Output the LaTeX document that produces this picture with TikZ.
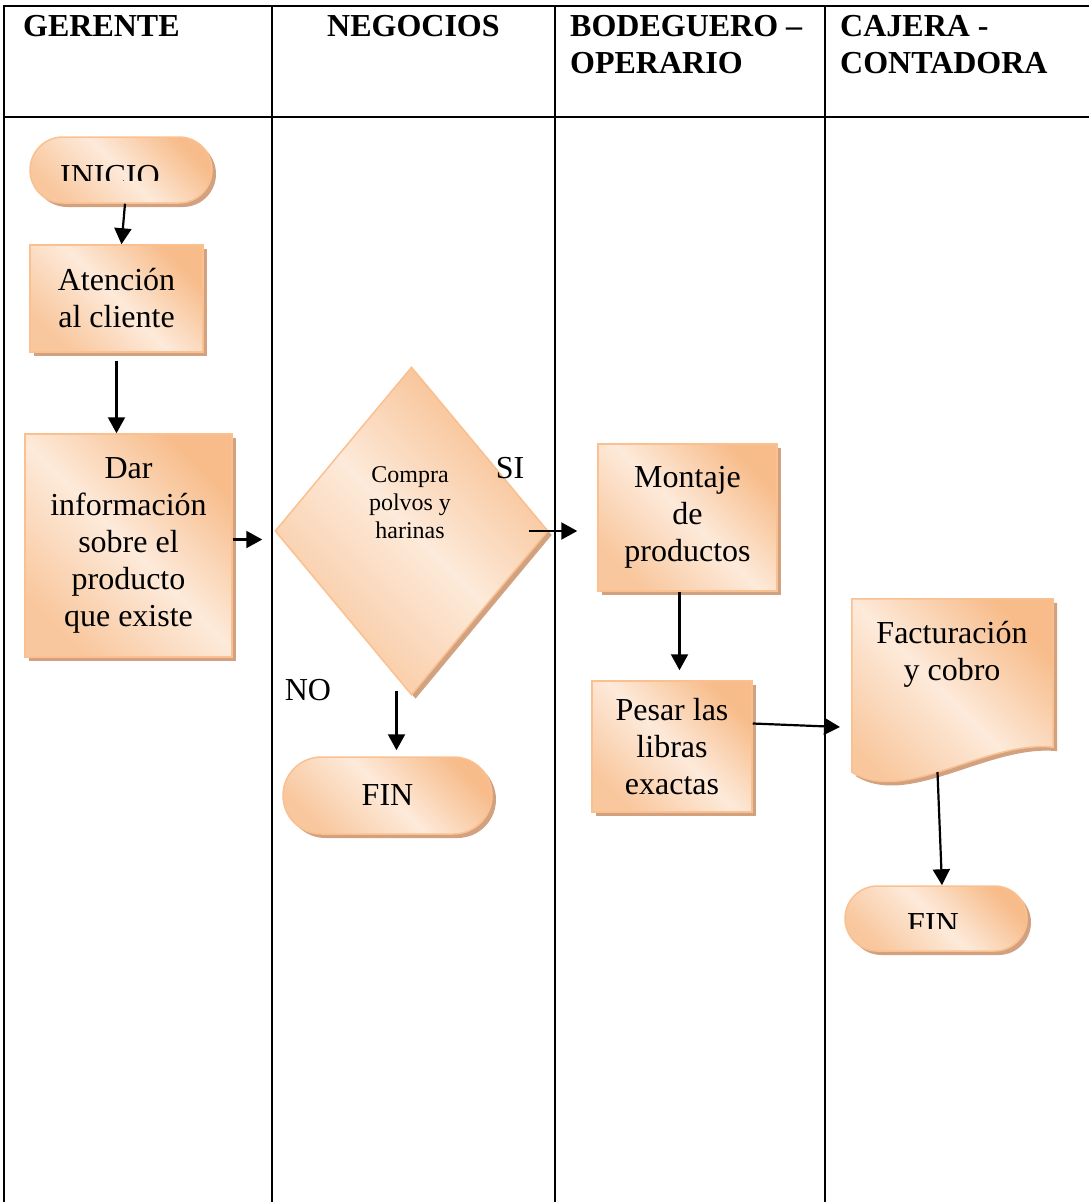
\documentclass[tikz,border=0pt]{standalone}
\usepackage{fontspec}
\setmainfont{Liberation Serif}
\usetikzlibrary{arrows.meta, positioning, shapes.geometric, shapes.misc, shadows}
\definecolor{naranjaOsc}{RGB}{247,188,138}
\definecolor{naranjaClaro}{RGB}{253,234,218}
\definecolor{bordeNar}{RGB}{250,192,143}
\definecolor{sombra}{RGB}{210,162,128}

\begin{document}
\begin{tikzpicture}[x=1pt, y=-1pt,
  cuerpo/.style={font=\fontsize{32}{37}\selectfont},
  cabecera/.style={font=\fontsize{32}{37}\selectfont\bfseries, align=left, anchor=north west, inner sep=0pt},
  relleno/.style={draw=bordeNar, line width=1.5pt, top color=naranjaOsc,
    bottom color=naranjaOsc!75!naranjaClaro, middle color=naranjaClaro, shading angle=-45,
    drop shadow={shadow xshift=4pt, shadow yshift=-4pt, fill=sombra, opacity=1}},
  terminal/.style={relleno, rounded rectangle, inner sep=0pt},
  proceso/.style={relleno, rectangle, align=center, inner sep=0pt, cuerpo},
  flecha/.style={-{Triangle[length=16pt,width=17pt]}, line width=2.2pt},
  linea/.style={line width=2.2pt}]
  \useasboundingbox (0,0) rectangle (1089,1202);
  % tabla
  \draw[linea] (3,6) -- (1089,6);
  \draw[linea] (3,117) -- (1089,117);
  \foreach \x in {4,272,555,825}
    \draw[linea] (\x,5) -- (\x,1202);
  \node[cabecera] (hGerente) at (23,15) {GERENTE};
  \node[cabecera] (hNegocios) at (327,15) {NEGOCIOS};
  \node[cabecera] (hBodega) at (570,15) {BODEGUERO --\\OPERARIO};
  \node[cabecera] (hCaja) at (840,15) {CAJERA -\\CONTADORA};
  % Gerente
  \node[terminal, minimum width=182pt, minimum height=66pt] (inicio) at (121,170) {};
  \begin{scope}
    \clip (30,150) rectangle (215,180);
    \node[cuerpo, anchor=north, inner sep=0pt] (inicioTxt) at (110,165) {INICIO};
  \end{scope}
  \node[proceso, minimum width=173pt, minimum height=107pt] (atencion) at (116.5,298.5)
    {Atención\\al cliente};
  \node[proceso, minimum width=207pt, minimum height=223pt] (informacion) at (128.5,545.5)
    {Dar\\información\\sobre el\\producto\\que existe};
  % Negocios
  \node[relleno, diamond, minimum width=273pt, minimum height=328pt, inner sep=0pt] (compra)
    at (411.5,531) {};
  \node[font=\fontsize{24}{28}\selectfont, align=center] (compraTxt) at (410,503)
    {Compra\\polvos y\\harinas};
  \node[cuerpo] (si) at (510,468) {SI};
  \node[cuerpo] (no) at (308,690) {NO};
  \node[terminal, cuerpo, minimum width=209pt, minimum height=77pt] (finNeg) at (387.5,795.5) {FIN};
  % Bodeguero
  \node[proceso, minimum width=179pt, minimum height=147pt] (montaje) at (687.5,517.5)
    {Montaje\\de\\productos};
  \node[proceso, minimum width=160pt, minimum height=131pt] (pesar) at (672,746.5)
    {Pesar las\\libras\\exactas};
  % Cajera
  \node[minimum width=201pt, minimum height=186pt] (factura) at (952.5,692) {};
  \draw[relleno] (factura.north west) -- (factura.north east) -- ([yshift=38pt]factura.south east)
    .. controls (985,740) and (905,805) .. ([yshift=13pt]factura.south west) -- cycle;
  \node[cuerpo, align=center] (facturaTxt) at (952,654) {Facturación\\y cobro};
  \node[terminal, minimum width=182pt, minimum height=65pt] (finCaja) at (936,918.5) {};
  \begin{scope}
    \clip (840,900) rectangle (1030,928);
    \node[cuerpo, anchor=north, inner sep=0pt] (finCajaTxt) at (933,913) {FIN};
  \end{scope}
  % conexiones
  \coordinate (entradaFact) at (840,727);
  \draw[flecha] ([xshift=4pt]inicio.south) -- ([xshift=5pt]atencion.north);
  \draw[flecha, shorten <=8pt] (atencion.south) -- (atencion.south |- informacion.north);
  \draw[flecha, shorten >=12pt] ([yshift=6pt]informacion.east) -- ([yshift=6pt]informacion.east -| compra.west);
  \draw[flecha, shorten <=-20pt, shorten >=20pt] (compra.east) -- (compra.east -| montaje.west);
  \draw[flecha, shorten >=6pt] ([xshift=-15pt, yshift=5pt]compra.south)
    -- ([xshift=-15pt]compra.south |- finNeg.north);
  \draw[flecha, shorten >=10pt] ([xshift=-8pt]montaje.south) -- ([xshift=-8pt]montaje.south |- pesar.north);
  \draw[flecha] ([yshift=23pt]pesar.east) -- (entradaFact);
  \draw[flecha] ([xshift=-15pt, yshift=13pt]factura.south) -- ([xshift=6pt]finCaja.north);
\end{tikzpicture}
\end{document}
